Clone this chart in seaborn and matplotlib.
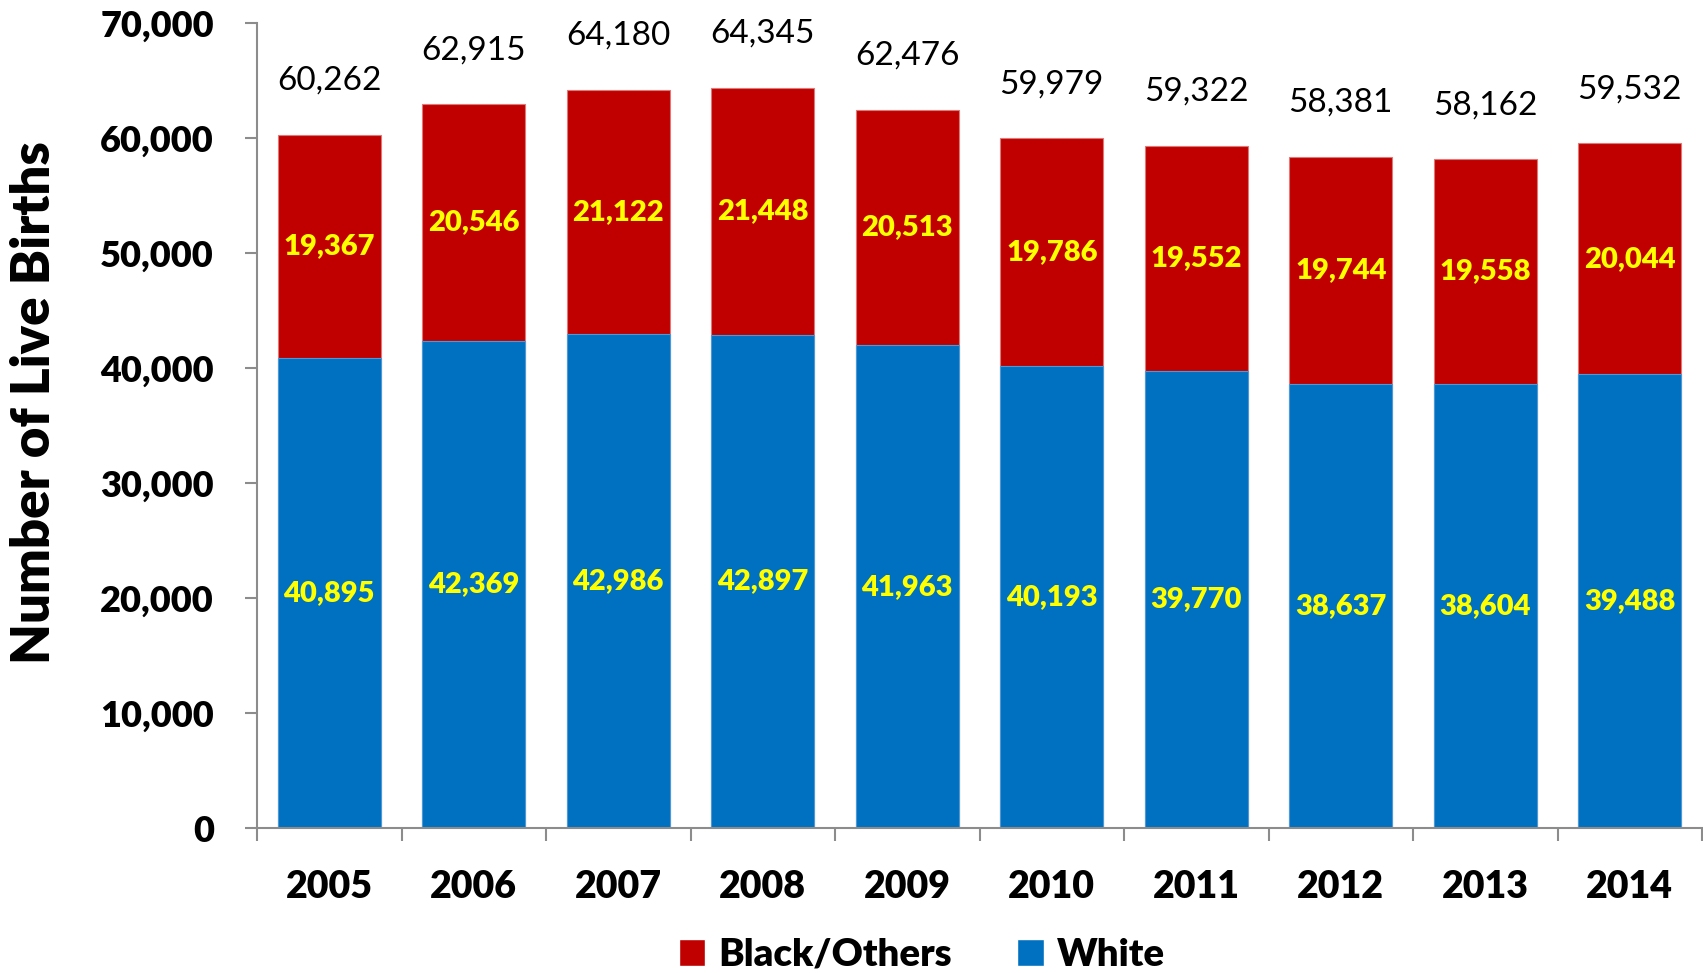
import numpy as np
import pandas as pd
import matplotlib
matplotlib.use("Agg")
import matplotlib.pyplot as plt
import seaborn as sns
from matplotlib.patches import Patch

# ----------------------------- DATA -----------------------------
years = ["2005", "2006", "2007", "2008", "2009", "2010", "2011", "2012", "2013", "2014"]
white = [40895, 42369, 42986, 42897, 41963, 40193, 39770, 38637, 38604, 39488]
black_others = [19367, 20546, 21122, 21448, 20513, 19786, 19552, 19744, 19558, 20044]
totals = [60262, 62915, 64180, 64345, 62476, 59979, 59322, 58381, 58162, 59532]

RED = "#C00000"
BLUE = "#0070C0"
YELLOW = "#FFFF00"
GRAY = "#8C8C8C"
HEAVY = "heavy"

# ----------------------------- STYLE -----------------------------
sns.set_theme(style="white")
plt.rcParams["font.family"] = ["Lato", "DejaVu Sans"]
plt.rcParams["text.color"] = "black"
plt.rcParams["axes.labelcolor"] = "black"
plt.rcParams["xtick.color"] = "black"
plt.rcParams["ytick.color"] = "black"

df = pd.DataFrame({"year": years, "white": white, "black": black_others, "total": totals})

fig = plt.figure(figsize=(17.03, 9.73), dpi=100)
ax = fig.add_axes([257 / 1703, 1 - 828 / 973, 1445 / 1703, 805 / 973])

# stacked bars: full total in red, white share drawn over it in blue
sns.barplot(data=df, x="year", y="total", color=RED, width=0.71, saturation=1,
            edgecolor="#E07878", linewidth=0.8, ax=ax)
sns.barplot(data=df, x="year", y="white", color=BLUE, width=0.71, saturation=1,
            edgecolor="#4A9AD8", linewidth=0.8, ax=ax)

# ----------------------------- LABELS -----------------------------
for i, (w, b, t) in enumerate(zip(white, black_others, totals)):
    ax.text(i, w / 2, f"{w:,}", ha="center", va="center", color=YELLOW,
            fontsize=21, fontweight=HEAVY)
    ax.text(i, w + b / 2, f"{b:,}", ha="center", va="center", color=YELLOW,
            fontsize=21, fontweight=HEAVY)
    ax.text(i, t + 4700, f"{t:,}", ha="center", va="center", color="black",
            fontsize=24)

ax.set_ylim(0, 70000)
ax.set_xlim(-0.5, len(years) - 0.5)
ax.set_yticks(np.arange(0, 70001, 10000))
ax.set_yticklabels([f"{v:,}" for v in range(0, 70001, 10000)],
                   fontsize=26, fontweight=HEAVY)

# boundary ticks as major, year labels on minor ticks at centres
ax.set_xticks(np.arange(-0.5, len(years), 1.0))
ax.set_xticklabels([])
ax.set_xticks(np.arange(len(years)), minor=True)
ax.set_xticklabels(years, minor=True, fontsize=27, fontweight=HEAVY)
ax.tick_params(axis="x", which="major", length=9, width=1.5, color=GRAY, direction="out", bottom=True)
ax.tick_params(axis="x", which="minor", length=0, pad=30)
ax.tick_params(axis="y", length=9, width=1.5, color=GRAY, direction="out", left=True, pad=22)

ax.set_xlabel("")
ax.set_ylabel("Number of Live Births", fontsize=38, fontweight=HEAVY)
ax.yaxis.set_label_coords(-0.137, 0.528)

for side in ["top", "right"]:
    ax.spines[side].set_visible(False)
for side in ["left", "bottom"]:
    ax.spines[side].set_color(GRAY)
    ax.spines[side].set_linewidth(1.5)

handles = [Patch(facecolor=RED, label="Black/Others"), Patch(facecolor=BLUE, label="White")]
fig.legend(handles=handles, loc="center", bbox_to_anchor=(922 / 1703, 1 - 955 / 973),
           ncol=2, frameon=False, prop={"size": 27.5, "weight": HEAVY},
           handlelength=0.7, handleheight=0.7, handletextpad=0.35, columnspacing=1.7)

fig.savefig("out.png", dpi=100)
